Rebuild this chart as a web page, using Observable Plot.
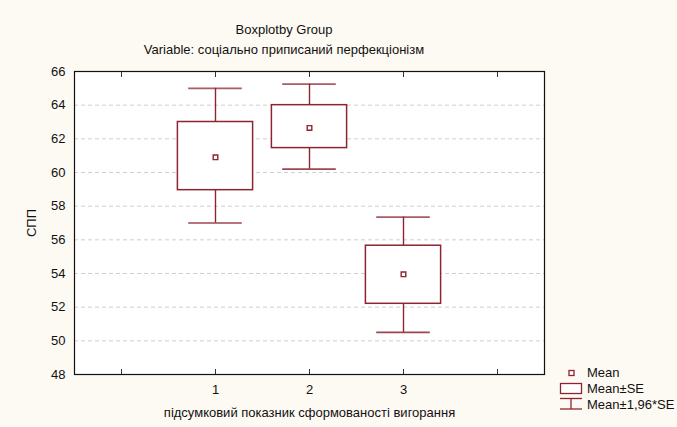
<!DOCTYPE html>
<html>
<head>
<meta charset="utf-8">
<script src="https://cdn.jsdelivr.net/npm/d3@7"></script>
<script src="https://cdn.jsdelivr.net/npm/@observablehq/plot@0.6"></script>
<style>
  html, body { margin: 0; padding: 0; background: #fdfaf3; }
  #wrap { position: relative; width: 677px; height: 427px; font-family: "Liberation Sans", Arial, sans-serif; color: #111; }
  .t { position: absolute; font-size: 13px; text-align: center; white-space: nowrap; line-height: 15px; }
  .leg { position: absolute; font-size: 13px; white-space: nowrap; line-height: 15px; }
</style>
</head>
<body>
<div id="wrap"></div>
<script>
const groups = [1, 2, 3];
const means  = [60.9, 62.65, 53.95];
const seLow  = [58.95, 61.45, 52.2];
const seHigh = [63.0, 64.0, 55.65];
const ciLow  = [57.0, 60.2, 50.5];
const ciHigh = [65.0, 65.25, 57.35];
const xTicks = [0, 1, 2, 3, 4];
const xTickLabels = ["", "1", "2", "3", ""];
const yTicks = [48, 50, 52, 54, 56, 58, 60, 62, 64, 66];
const gridTicks = [50, 52, 54, 56, 58, 60, 62, 64];

const title = "Boxplotby Group";
const subtitle = "Variable: соціально приписаний перфекціонізм";
const yLabel = "СПП";
const xLabel = "підсумковий показник сформованості вигорання";
const legendLabels = ["Mean", "Mean±SE", "Mean±1,96*SE"];

const red = "#8e2430";
const data = groups.map((g, i) => ({g, mean: means[i], lo: seLow[i], hi: seHigh[i], cl: ciLow[i], ch: ciHigh[i]}));
const boxHalf = 0.4, capHalf = 0.285;

const chart = Plot.plot({
  width: 677,
  height: 427,
  marginLeft: 74,
  marginRight: 133,
  marginTop: 71,
  marginBottom: 53,
  style: {background: "transparent", fontFamily: "Liberation Sans, Arial, sans-serif", fontSize: "13px", color: "#111"},
  x: {domain: [-0.5, 4.5]},
  y: {domain: [48, 66]},
  marks: [
    Plot.frame({fill: "white", stroke: null}),
    Plot.gridY(gridTicks, {stroke: "#cfcfcf", strokeOpacity: 1, strokeDasharray: "4,3", strokeWidth: 1}),
    Plot.ruleX(data, {x: "g", y1: "hi", y2: "ch", stroke: red, strokeWidth: 1.4}),
    Plot.ruleX(data, {x: "g", y1: "lo", y2: "cl", stroke: red, strokeWidth: 1.4}),
    Plot.ruleY(data, {y: "ch", x1: d => d.g - capHalf, x2: d => d.g + capHalf, stroke: red, strokeWidth: 1.6, strokeOpacity: 0.75}),
    Plot.ruleY(data, {y: "cl", x1: d => d.g - capHalf, x2: d => d.g + capHalf, stroke: red, strokeWidth: 1.6, strokeOpacity: 0.85}),
    Plot.rect(data, {x1: d => d.g - boxHalf, x2: d => d.g + boxHalf, y1: "lo", y2: "hi", fill: "white", stroke: red, strokeWidth: 1.5}),
    Plot.dot(data, {x: "g", y: "mean", symbol: "square", r: 2.6, fill: "white", stroke: red, strokeWidth: 1.4}),
    Plot.frame({stroke: "#111", strokeWidth: 1.2}),
    Plot.axisY(yTicks, {tickSize: 0, tickPadding: 9, fontSize: 13, label: yLabel, labelAnchor: "center", labelOffset: 48, labelArrow: "none"}),
    Plot.axisX(xTicks, {anchor: "bottom", tickSize: -5, tickPadding: 15, tickFormat: (d, i) => xTickLabels[i], fontSize: 13, stroke: "#333",
      label: xLabel, labelAnchor: "center", labelOffset: 42, labelArrow: "none"}),
    Plot.axisX(xTicks, {anchor: "top", tickSize: -5, tickFormat: () => "", stroke: "#333", label: null})
  ]
});
const wrap = document.getElementById("wrap");
chart.style.position = "absolute";
chart.style.left = "0";
chart.style.top = "0";
wrap.appendChild(chart);

function addText(cls, txt, css) {
  const d = document.createElement("div");
  d.className = cls;
  d.textContent = txt;
  Object.assign(d.style, css);
  wrap.appendChild(d);
  return d;
}
addText("t", title, {left: "184px", width: "200px", top: "22px"});
addText("t", subtitle, {left: "84px", width: "400px", top: "42px"});

// legend
const legTop = [365, 381, 397];
legendLabels.forEach((lab, i) => addText("leg", lab, {left: "587px", top: legTop[i] + "px"}));
const ns = "http://www.w3.org/2000/svg";
const ls = document.createElementNS(ns, "svg");
ls.setAttribute("width", 40); ls.setAttribute("height", 50);
ls.style.position = "absolute"; ls.style.left = "555px"; ls.style.top = "365px";
ls.innerHTML = `
  <rect x="14" y="5.5" width="5" height="5" fill="white" stroke="${red}" stroke-width="1.3"/>
  <rect x="5.5" y="18.5" width="21" height="10" fill="white" stroke="${red}" stroke-width="1.3"/>
  <line x1="5" x2="27" y1="33.5" y2="33.5" stroke="${red}" stroke-width="1.3"/>
  <line x1="16" x2="16" y1="33.5" y2="44" stroke="${red}" stroke-width="1.3"/>
  <line x1="5" x2="27" y1="44" y2="44" stroke="${red}" stroke-width="1.3"/>`;
wrap.appendChild(ls);
</script>
</body>
</html>
